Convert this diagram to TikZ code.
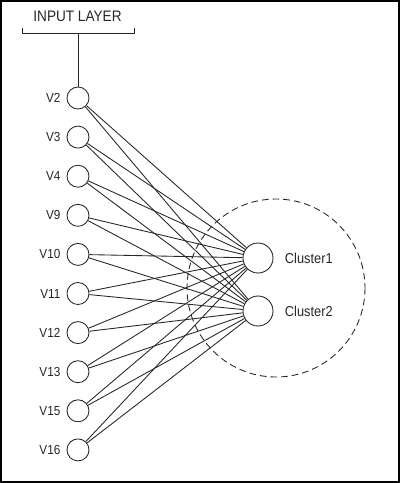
\documentclass[tikz,border=0pt]{standalone}
\usepackage{fontspec}
\usepackage{graphicx}
\setmainfont{Liberation Sans}
\newcommand{\tallt}[1]{\scalebox{1}[1.12]{#1}}
\begin{document}
\begin{tikzpicture}[x=0.75pt,y=-0.75pt,line width=0.65pt,draw=black!85,
    unit/.style={circle,draw,fill=white,inner sep=0pt,minimum size=16.5pt},
    cluster/.style={circle,draw,fill=white,inner sep=0pt,minimum size=22.5pt},
    vlabel/.style={font=\fontsize{8.8}{10}\selectfont,text=black!85},
    clabel/.style={font=\fontsize{9.6}{11}\selectfont,text=black!85},
]
    \useasboundingbox (0,0) rectangle (400,483);
    \def\ux{78}
    \def\cx{258}
    \def\layer{(276,288) circle (89)}

    % Frame
    \draw[line width=1.2pt,black] (0.8,0.8) rectangle (399.2,482.2);

    % Cluster group
    \draw[dash pattern=on 5pt off 3pt] \layer;

    % Input layer
    \node[clabel,font=\fontsize{10.2}{12}\selectfont] (title) at (77.5,16) {\tallt{INPUT LAYER}};
    \draw (22.7,28) -- (22.7,33) -- (134,33) -- (134,28);
    \coordinate (brk) at (\ux,33);

    \foreach \name [count=\i from 0] in {V2,V3,V4,V9,V10,V11,V12,V13,V15,V16}
        \node[unit,label={[vlabel,label distance=1pt]left:\tallt{\name}}] (\name) at (\ux,98+39.1*\i) {};

    \draw (brk) -- (V2);

    % Output units
    \node[cluster,label={[clabel,label distance=5pt]right:\tallt{Cluster1}}] (C1) at (\cx,258) {};
    \node[cluster,label={[clabel,label distance=5pt]right:\tallt{Cluster2}}] (C2) at (\cx,311) {};

    % Connections
    \foreach \name in {V2,V3,V4,V9,V10,V11,V12,V13,V15,V16} {
        \draw (\name) -- (C1);
        \draw (\name) -- (C2);
    }
\end{tikzpicture}
\end{document}
